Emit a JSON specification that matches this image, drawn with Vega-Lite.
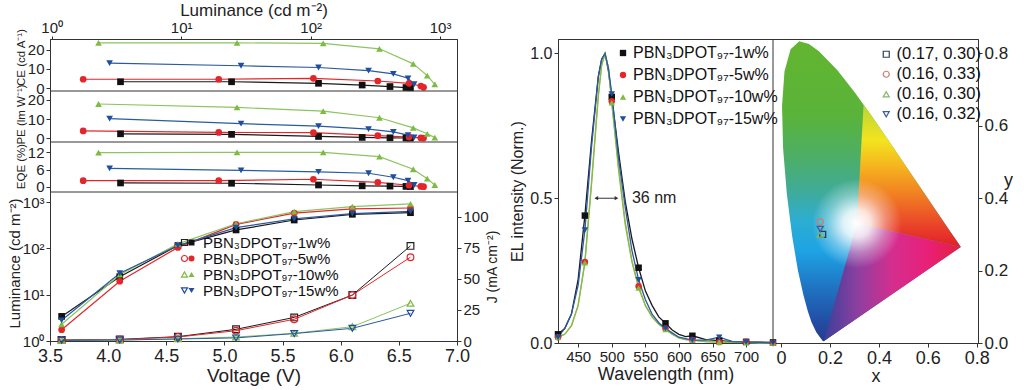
{
  "$schema": "https://vega.github.io/schema/vega-lite/v6.json",
  "background": "white",
  "padding": {"left": 6, "top": 0, "right": 0, "bottom": 0},
  "config": {
    "font": "Liberation Sans",
    "view": {"stroke": "#333333", "strokeWidth": 1},
    "axis": {"grid": false, "labelFlush": false, "labelOverlap": false, "labelFont": "Liberation Sans", "titleFont": "Liberation Sans", "labelColor": "#222222", "titleColor": "#222222", "titleFontWeight": "normal", "domainColor": "#333333", "tickColor": "#333333", "tickSize": 4, "labelPadding": 2, "labelFontSize": 15, "titleFontSize": 16},
    "legend": {"labelFont": "Liberation Sans", "labelColor": "#111111", "labelFontSize": 16, "padding": 0, "symbolStrokeWidth": 1}
  },
  "datasets": {
    "eff": [
      {"s": "1w%", "L": 3.4, "ce": 3.3, "pe": 2.3, "eqe": 1.3},
      {"s": "1w%", "L": 24.5, "ce": 3.3, "pe": 2.0, "eqe": 1.2},
      {"s": "1w%", "L": 115, "ce": 2.5, "pe": 0.9, "eqe": 0.6},
      {"s": "1w%", "L": 250, "ce": 1.6, "pe": 0.4, "eqe": 0.3},
      {"s": "1w%", "L": 410, "ce": 0.8, "pe": 0.2, "eqe": 0.2},
      {"s": "1w%", "L": 545, "ce": 0.3, "pe": 0.1, "eqe": 0.1},
      {"s": "1w%", "L": 590, "ce": 0.2, "pe": 0.05, "eqe": 0.05},
      {"s": "5w%", "L": 1.75, "ce": 4.6, "pe": 3.8, "eqe": 2.1},
      {"s": "5w%", "L": 19.5, "ce": 4.6, "pe": 3.0, "eqe": 2.1},
      {"s": "5w%", "L": 105, "ce": 5.1, "pe": 2.9, "eqe": 2.6},
      {"s": "5w%", "L": 330, "ce": 3.7, "pe": 1.3, "eqe": 1.5},
      {"s": "5w%", "L": 575, "ce": 2.5, "pe": 0.6, "eqe": 0.5},
      {"s": "5w%", "L": 710, "ce": 1.1, "pe": 0.15, "eqe": 0.1},
      {"s": "5w%", "L": 745, "ce": 0.4, "pe": 0.05, "eqe": 0.0},
      {"s": "10w%", "L": 2.3, "ce": 23.5, "pe": 17.9, "eqe": 11.9},
      {"s": "10w%", "L": 27, "ce": 23.5, "pe": 16.1, "eqe": 12.0},
      {"s": "10w%", "L": 125, "ce": 23.2, "pe": 14.2, "eqe": 12.0},
      {"s": "10w%", "L": 340, "ce": 20.4, "pe": 10.7, "eqe": 10.5},
      {"s": "10w%", "L": 620, "ce": 12.6, "pe": 5.4, "eqe": 6.1},
      {"s": "10w%", "L": 795, "ce": 6.5, "pe": 2.3, "eqe": 2.8},
      {"s": "10w%", "L": 910, "ce": 1.9, "pe": 0.3, "eqe": 0.6},
      {"s": "15w%", "L": 2.8, "ce": 13.0, "pe": 10.2, "eqe": 6.4},
      {"s": "15w%", "L": 29, "ce": 11.6, "pe": 7.6, "eqe": 5.7},
      {"s": "15w%", "L": 115, "ce": 10.7, "pe": 6.3, "eqe": 5.2},
      {"s": "15w%", "L": 280, "ce": 9.1, "pe": 4.7, "eqe": 4.7},
      {"s": "15w%", "L": 435, "ce": 7.4, "pe": 3.3, "eqe": 3.3},
      {"s": "15w%", "L": 565, "ce": 5.1, "pe": 1.6, "eqe": 2.1},
      {"s": "15w%", "L": 630, "ce": 2.0, "pe": 0.4, "eqe": 0.6}
    ],
    "lumv": [
      {"name": "PBN₃DPOT₉₇-1w%", "v": 3.6, "L": 3.4},
      {"name": "PBN₃DPOT₉₇-1w%", "v": 4.1, "L": 24.5},
      {"name": "PBN₃DPOT₉₇-1w%", "v": 4.6, "L": 115},
      {"name": "PBN₃DPOT₉₇-1w%", "v": 5.1, "L": 250},
      {"name": "PBN₃DPOT₉₇-1w%", "v": 5.6, "L": 410},
      {"name": "PBN₃DPOT₉₇-1w%", "v": 6.1, "L": 545},
      {"name": "PBN₃DPOT₉₇-1w%", "v": 6.6, "L": 590},
      {"name": "PBN₃DPOT₉₇-5w%", "v": 3.6, "L": 1.75},
      {"name": "PBN₃DPOT₉₇-5w%", "v": 4.1, "L": 19.5},
      {"name": "PBN₃DPOT₉₇-5w%", "v": 4.6, "L": 105},
      {"name": "PBN₃DPOT₉₇-5w%", "v": 5.1, "L": 330},
      {"name": "PBN₃DPOT₉₇-5w%", "v": 5.6, "L": 575},
      {"name": "PBN₃DPOT₉₇-5w%", "v": 6.1, "L": 710},
      {"name": "PBN₃DPOT₉₇-5w%", "v": 6.6, "L": 745},
      {"name": "PBN₃DPOT₉₇-10w%", "v": 3.6, "L": 2.3},
      {"name": "PBN₃DPOT₉₇-10w%", "v": 4.1, "L": 27},
      {"name": "PBN₃DPOT₉₇-10w%", "v": 4.6, "L": 125},
      {"name": "PBN₃DPOT₉₇-10w%", "v": 5.1, "L": 340},
      {"name": "PBN₃DPOT₉₇-10w%", "v": 5.6, "L": 620},
      {"name": "PBN₃DPOT₉₇-10w%", "v": 6.1, "L": 795},
      {"name": "PBN₃DPOT₉₇-10w%", "v": 6.6, "L": 910},
      {"name": "PBN₃DPOT₉₇-15w%", "v": 3.6, "L": 2.8},
      {"name": "PBN₃DPOT₉₇-15w%", "v": 4.1, "L": 29},
      {"name": "PBN₃DPOT₉₇-15w%", "v": 4.6, "L": 115},
      {"name": "PBN₃DPOT₉₇-15w%", "v": 5.1, "L": 280},
      {"name": "PBN₃DPOT₉₇-15w%", "v": 5.6, "L": 435},
      {"name": "PBN₃DPOT₉₇-15w%", "v": 6.1, "L": 565},
      {"name": "PBN₃DPOT₉₇-15w%", "v": 6.6, "L": 630}
    ],
    "jv": [
      {"series": "PBN₃DPOT₉₇-1w%", "v": 3.6, "J": 0.8},
      {"series": "PBN₃DPOT₉₇-1w%", "v": 4.1, "J": 1.3},
      {"series": "PBN₃DPOT₉₇-1w%", "v": 4.6, "J": 3.5},
      {"series": "PBN₃DPOT₉₇-1w%", "v": 5.1, "J": 9.4},
      {"series": "PBN₃DPOT₉₇-1w%", "v": 5.6, "J": 19},
      {"series": "PBN₃DPOT₉₇-1w%", "v": 6.1, "J": 37},
      {"series": "PBN₃DPOT₉₇-1w%", "v": 6.6, "J": 76.6},
      {"series": "PBN₃DPOT₉₇-5w%", "v": 3.6, "J": 0.7},
      {"series": "PBN₃DPOT₉₇-5w%", "v": 4.1, "J": 1.2},
      {"series": "PBN₃DPOT₉₇-5w%", "v": 4.6, "J": 3.2},
      {"series": "PBN₃DPOT₉₇-5w%", "v": 5.1, "J": 8.3},
      {"series": "PBN₃DPOT₉₇-5w%", "v": 5.6, "J": 17.5},
      {"series": "PBN₃DPOT₉₇-5w%", "v": 6.1, "J": 37},
      {"series": "PBN₃DPOT₉₇-5w%", "v": 6.6, "J": 67.5},
      {"series": "PBN₃DPOT₉₇-10w%", "v": 3.6, "J": 0.5},
      {"series": "PBN₃DPOT₉₇-10w%", "v": 4.1, "J": 0.8},
      {"series": "PBN₃DPOT₉₇-10w%", "v": 4.6, "J": 1.8},
      {"series": "PBN₃DPOT₉₇-10w%", "v": 5.1, "J": 3.2},
      {"series": "PBN₃DPOT₉₇-10w%", "v": 5.6, "J": 6.2},
      {"series": "PBN₃DPOT₉₇-10w%", "v": 6.1, "J": 11.5},
      {"series": "PBN₃DPOT₉₇-10w%", "v": 6.6, "J": 30.4},
      {"series": "PBN₃DPOT₉₇-15w%", "v": 3.6, "J": 0.5},
      {"series": "PBN₃DPOT₉₇-15w%", "v": 4.1, "J": 0.8},
      {"series": "PBN₃DPOT₉₇-15w%", "v": 4.6, "J": 1.6},
      {"series": "PBN₃DPOT₉₇-15w%", "v": 5.1, "J": 2.5},
      {"series": "PBN₃DPOT₉₇-15w%", "v": 5.6, "J": 6.0},
      {"series": "PBN₃DPOT₉₇-15w%", "v": 6.1, "J": 10.2},
      {"series": "PBN₃DPOT₉₇-15w%", "v": 6.6, "J": 22.3}
    ],
    "el": [
      {"s": "PBN₃DPOT₉₇-1w%", "wl": 420, "I": 0.03}, {"s": "PBN₃DPOT₉₇-1w%", "wl": 430, "I": 0.05}, {"s": "PBN₃DPOT₉₇-1w%", "wl": 440, "I": 0.10}, {"s": "PBN₃DPOT₉₇-1w%", "wl": 450, "I": 0.22}, {"s": "PBN₃DPOT₉₇-1w%", "wl": 460, "I": 0.44}, {"s": "PBN₃DPOT₉₇-1w%", "wl": 470, "I": 0.70}, {"s": "PBN₃DPOT₉₇-1w%", "wl": 480, "I": 0.92}, {"s": "PBN₃DPOT₉₇-1w%", "wl": 485, "I": 0.98}, {"s": "PBN₃DPOT₉₇-1w%", "wl": 490, "I": 1.0}, {"s": "PBN₃DPOT₉₇-1w%", "wl": 495, "I": 0.94}, {"s": "PBN₃DPOT₉₇-1w%", "wl": 500, "I": 0.85}, {"s": "PBN₃DPOT₉₇-1w%", "wl": 510, "I": 0.66}, {"s": "PBN₃DPOT₉₇-1w%", "wl": 520, "I": 0.49}, {"s": "PBN₃DPOT₉₇-1w%", "wl": 530, "I": 0.36}, {"s": "PBN₃DPOT₉₇-1w%", "wl": 540, "I": 0.26}, {"s": "PBN₃DPOT₉₇-1w%", "wl": 550, "I": 0.18}, {"s": "PBN₃DPOT₉₇-1w%", "wl": 560, "I": 0.13}, {"s": "PBN₃DPOT₉₇-1w%", "wl": 570, "I": 0.09}, {"s": "PBN₃DPOT₉₇-1w%", "wl": 580, "I": 0.068}, {"s": "PBN₃DPOT₉₇-1w%", "wl": 590, "I": 0.045}, {"s": "PBN₃DPOT₉₇-1w%", "wl": 600, "I": 0.03}, {"s": "PBN₃DPOT₉₇-1w%", "wl": 610, "I": 0.022}, {"s": "PBN₃DPOT₉₇-1w%", "wl": 620, "I": 0.025}, {"s": "PBN₃DPOT₉₇-1w%", "wl": 640, "I": 0.012}, {"s": "PBN₃DPOT₉₇-1w%", "wl": 660, "I": 0.008}, {"s": "PBN₃DPOT₉₇-1w%", "wl": 680, "I": 0.005}, {"s": "PBN₃DPOT₉₇-1w%", "wl": 700, "I": 0.004}, {"s": "PBN₃DPOT₉₇-1w%", "wl": 720, "I": 0.003}, {"s": "PBN₃DPOT₉₇-1w%", "wl": 740, "I": 0.002},
      {"s": "PBN₃DPOT₉₇-5w%", "wl": 420, "I": 0.02}, {"s": "PBN₃DPOT₉₇-5w%", "wl": 430, "I": 0.03}, {"s": "PBN₃DPOT₉₇-5w%", "wl": 440, "I": 0.06}, {"s": "PBN₃DPOT₉₇-5w%", "wl": 450, "I": 0.13}, {"s": "PBN₃DPOT₉₇-5w%", "wl": 460, "I": 0.28}, {"s": "PBN₃DPOT₉₇-5w%", "wl": 470, "I": 0.56}, {"s": "PBN₃DPOT₉₇-5w%", "wl": 480, "I": 0.86}, {"s": "PBN₃DPOT₉₇-5w%", "wl": 485, "I": 0.96}, {"s": "PBN₃DPOT₉₇-5w%", "wl": 490, "I": 1.0}, {"s": "PBN₃DPOT₉₇-5w%", "wl": 495, "I": 0.95}, {"s": "PBN₃DPOT₉₇-5w%", "wl": 500, "I": 0.835}, {"s": "PBN₃DPOT₉₇-5w%", "wl": 510, "I": 0.61}, {"s": "PBN₃DPOT₉₇-5w%", "wl": 520, "I": 0.42}, {"s": "PBN₃DPOT₉₇-5w%", "wl": 530, "I": 0.285}, {"s": "PBN₃DPOT₉₇-5w%", "wl": 540, "I": 0.196}, {"s": "PBN₃DPOT₉₇-5w%", "wl": 550, "I": 0.13}, {"s": "PBN₃DPOT₉₇-5w%", "wl": 560, "I": 0.09}, {"s": "PBN₃DPOT₉₇-5w%", "wl": 570, "I": 0.065}, {"s": "PBN₃DPOT₉₇-5w%", "wl": 580, "I": 0.05}, {"s": "PBN₃DPOT₉₇-5w%", "wl": 590, "I": 0.03}, {"s": "PBN₃DPOT₉₇-5w%", "wl": 600, "I": 0.018}, {"s": "PBN₃DPOT₉₇-5w%", "wl": 610, "I": 0.012}, {"s": "PBN₃DPOT₉₇-5w%", "wl": 620, "I": 0.01}, {"s": "PBN₃DPOT₉₇-5w%", "wl": 640, "I": 0.005}, {"s": "PBN₃DPOT₉₇-5w%", "wl": 660, "I": 0.003}, {"s": "PBN₃DPOT₉₇-5w%", "wl": 680, "I": 0.002}, {"s": "PBN₃DPOT₉₇-5w%", "wl": 700, "I": 0.004}, {"s": "PBN₃DPOT₉₇-5w%", "wl": 720, "I": 0.001}, {"s": "PBN₃DPOT₉₇-5w%", "wl": 740, "I": 0.0},
      {"s": "PBN₃DPOT₉₇-10w%", "wl": 420, "I": 0.02}, {"s": "PBN₃DPOT₉₇-10w%", "wl": 430, "I": 0.03}, {"s": "PBN₃DPOT₉₇-10w%", "wl": 440, "I": 0.06}, {"s": "PBN₃DPOT₉₇-10w%", "wl": 450, "I": 0.13}, {"s": "PBN₃DPOT₉₇-10w%", "wl": 460, "I": 0.277}, {"s": "PBN₃DPOT₉₇-10w%", "wl": 470, "I": 0.55}, {"s": "PBN₃DPOT₉₇-10w%", "wl": 480, "I": 0.85}, {"s": "PBN₃DPOT₉₇-10w%", "wl": 485, "I": 0.96}, {"s": "PBN₃DPOT₉₇-10w%", "wl": 490, "I": 1.0}, {"s": "PBN₃DPOT₉₇-10w%", "wl": 495, "I": 0.95}, {"s": "PBN₃DPOT₉₇-10w%", "wl": 500, "I": 0.83}, {"s": "PBN₃DPOT₉₇-10w%", "wl": 510, "I": 0.60}, {"s": "PBN₃DPOT₉₇-10w%", "wl": 520, "I": 0.41}, {"s": "PBN₃DPOT₉₇-10w%", "wl": 530, "I": 0.28}, {"s": "PBN₃DPOT₉₇-10w%", "wl": 540, "I": 0.19}, {"s": "PBN₃DPOT₉₇-10w%", "wl": 550, "I": 0.13}, {"s": "PBN₃DPOT₉₇-10w%", "wl": 560, "I": 0.09}, {"s": "PBN₃DPOT₉₇-10w%", "wl": 570, "I": 0.065}, {"s": "PBN₃DPOT₉₇-10w%", "wl": 580, "I": 0.047}, {"s": "PBN₃DPOT₉₇-10w%", "wl": 590, "I": 0.03}, {"s": "PBN₃DPOT₉₇-10w%", "wl": 600, "I": 0.018}, {"s": "PBN₃DPOT₉₇-10w%", "wl": 610, "I": 0.012}, {"s": "PBN₃DPOT₉₇-10w%", "wl": 620, "I": 0.01}, {"s": "PBN₃DPOT₉₇-10w%", "wl": 640, "I": 0.005}, {"s": "PBN₃DPOT₉₇-10w%", "wl": 660, "I": 0.003}, {"s": "PBN₃DPOT₉₇-10w%", "wl": 680, "I": 0.002}, {"s": "PBN₃DPOT₉₇-10w%", "wl": 700, "I": 0.001}, {"s": "PBN₃DPOT₉₇-10w%", "wl": 720, "I": 0.0}, {"s": "PBN₃DPOT₉₇-10w%", "wl": 740, "I": 0.0},
      {"s": "PBN₃DPOT₉₇-15w%", "wl": 420, "I": 0.02}, {"s": "PBN₃DPOT₉₇-15w%", "wl": 430, "I": 0.05}, {"s": "PBN₃DPOT₉₇-15w%", "wl": 440, "I": 0.10}, {"s": "PBN₃DPOT₉₇-15w%", "wl": 450, "I": 0.20}, {"s": "PBN₃DPOT₉₇-15w%", "wl": 460, "I": 0.39}, {"s": "PBN₃DPOT₉₇-15w%", "wl": 470, "I": 0.68}, {"s": "PBN₃DPOT₉₇-15w%", "wl": 480, "I": 0.92}, {"s": "PBN₃DPOT₉₇-15w%", "wl": 485, "I": 0.98}, {"s": "PBN₃DPOT₉₇-15w%", "wl": 490, "I": 1.0}, {"s": "PBN₃DPOT₉₇-15w%", "wl": 495, "I": 0.95}, {"s": "PBN₃DPOT₉₇-15w%", "wl": 500, "I": 0.86}, {"s": "PBN₃DPOT₉₇-15w%", "wl": 510, "I": 0.64}, {"s": "PBN₃DPOT₉₇-15w%", "wl": 520, "I": 0.47}, {"s": "PBN₃DPOT₉₇-15w%", "wl": 530, "I": 0.32}, {"s": "PBN₃DPOT₉₇-15w%", "wl": 540, "I": 0.218}, {"s": "PBN₃DPOT₉₇-15w%", "wl": 550, "I": 0.15}, {"s": "PBN₃DPOT₉₇-15w%", "wl": 560, "I": 0.10}, {"s": "PBN₃DPOT₉₇-15w%", "wl": 570, "I": 0.07}, {"s": "PBN₃DPOT₉₇-15w%", "wl": 580, "I": 0.05}, {"s": "PBN₃DPOT₉₇-15w%", "wl": 590, "I": 0.035}, {"s": "PBN₃DPOT₉₇-15w%", "wl": 600, "I": 0.02}, {"s": "PBN₃DPOT₉₇-15w%", "wl": 610, "I": 0.015}, {"s": "PBN₃DPOT₉₇-15w%", "wl": 620, "I": 0.01}, {"s": "PBN₃DPOT₉₇-15w%", "wl": 640, "I": 0.01}, {"s": "PBN₃DPOT₉₇-15w%", "wl": 660, "I": 0.02}, {"s": "PBN₃DPOT₉₇-15w%", "wl": 680, "I": 0.005}, {"s": "PBN₃DPOT₉₇-15w%", "wl": 700, "I": 0.003}, {"s": "PBN₃DPOT₉₇-15w%", "wl": 720, "I": 0.002}, {"s": "PBN₃DPOT₉₇-15w%", "wl": 740, "I": 0.0}
    ],
    "locus": [
      {"o": 1, "x": 0.1741, "y": 0.0050}, {"o": 2, "x": 0.1714, "y": 0.0051}, {"o": 3, "x": 0.1644, "y": 0.0109}, {"o": 4, "x": 0.1566, "y": 0.0177}, {"o": 5, "x": 0.1440, "y": 0.0297}, {"o": 6, "x": 0.1241, "y": 0.0578}, {"o": 7, "x": 0.1096, "y": 0.0868}, {"o": 8, "x": 0.0913, "y": 0.1327}, {"o": 9, "x": 0.0687, "y": 0.2007}, {"o": 10, "x": 0.0454, "y": 0.2950}, {"o": 11, "x": 0.0235, "y": 0.4127}, {"o": 12, "x": 0.0082, "y": 0.5384}, {"o": 13, "x": 0.0039, "y": 0.6548}, {"o": 14, "x": 0.0139, "y": 0.7502}, {"o": 15, "x": 0.0389, "y": 0.8120}, {"o": 16, "x": 0.0743, "y": 0.8338}, {"o": 17, "x": 0.1142, "y": 0.8262}, {"o": 18, "x": 0.1547, "y": 0.8059}, {"o": 19, "x": 0.2296, "y": 0.7543}, {"o": 20, "x": 0.3016, "y": 0.6923}, {"o": 21, "x": 0.3731, "y": 0.6245}, {"o": 22, "x": 0.4441, "y": 0.5547}, {"o": 23, "x": 0.5125, "y": 0.4866}, {"o": 24, "x": 0.5752, "y": 0.4242}, {"o": 25, "x": 0.6270, "y": 0.3725}, {"o": 26, "x": 0.6915, "y": 0.3083}, {"o": 27, "x": 0.7190, "y": 0.2809}, {"o": 28, "x": 0.7347, "y": 0.2653}, {"o": 29, "x": 0.1741, "y": 0.0050}
    ],
    "secR": [
      {"o": 1, "x": 0.31, "y": 0.33}, {"o": 2, "x": 0.3373, "y": 0.6589}, {"o": 3, "x": 0.3731, "y": 0.6245}, {"o": 4, "x": 0.4441, "y": 0.5547}, {"o": 5, "x": 0.5125, "y": 0.4866}, {"o": 6, "x": 0.5752, "y": 0.4242}, {"o": 7, "x": 0.6270, "y": 0.3725}, {"o": 8, "x": 0.6915, "y": 0.3083}, {"o": 9, "x": 0.7190, "y": 0.2809}, {"o": 10, "x": 0.7347, "y": 0.2653}, {"o": 11, "x": 0.31, "y": 0.33}
    ],
    "secB": [
      {"o": 1, "x": 0.31, "y": 0.33}, {"o": 2, "x": 0.7347, "y": 0.2653}, {"o": 3, "x": 0.1741, "y": 0.0050}, {"o": 4, "x": 0.31, "y": 0.33}
    ],
    "wp": [{"x": 0.31, "y": 0.33}],
    "cie": [
      {"lab": "(0.17, 0.30)", "x": 0.17, "y": 0.30},
      {"lab": "(0.16, 0.33)", "x": 0.16, "y": 0.335},
      {"lab": "(0.16, 0.30)", "x": 0.16, "y": 0.30},
      {"lab": "(0.16, 0.32)", "x": 0.16, "y": 0.315}
    ]
  },
  "hconcat": [
    {
      "width": 407,
      "height": 302,
      "layer": [
        {
          "data": {"name": "eff"},
          "encoding": {
            "x": {"field": "L", "type": "quantitative", "scale": {"type": "log", "domain": [0.97, 1350], "nice": false}, "axis": {"orient": "top", "values": [1, 10, 100, 1000], "labelExpr": "datum.value == 1 ? '10⁰' : datum.value == 10 ? '10¹' : datum.value == 100 ? '10²' : '10³'", "title": "Luminance (cd m⁻²)", "titleFontSize": 17, "titlePadding": 1, "labelPadding": 1, "tickSize": 3, "labelFontSize": 15}},
            "y": {"field": "ce", "type": "quantitative", "scale": {"domain": [-1.5, 25.5], "nice": false, "zero": false, "range": [52, 0]}, "axis": {"orient": "left", "values": [0, 10, 20], "title": "CE (cd A⁻¹)", "titleFontSize": 11.5, "titleX": -24, "titleY": 18}}
          },
          "layer": [
            {"mark": {"type": "line", "strokeWidth": 1.2}, "encoding": {"stroke": {"field": "s", "type": "nominal", "scale": {"domain": ["15w%", "10w%", "5w%", "1w%"], "range": ["#2a5aa0", "#8cc460", "#e3262b", "#1a1a1a"]}, "legend": null}}},
            {"mark": {"type": "point", "filled": true, "size": 45, "opacity": 1}, "encoding": {"color": {"field": "s", "type": "nominal", "scale": {"domain": ["1w%", "5w%", "10w%", "15w%"], "range": ["#111111", "#e3262b", "#7dbb42", "#1f4e9e"]}, "legend": null}, "shape": {"field": "s", "type": "nominal", "scale": {"domain": ["1w%", "5w%", "10w%", "15w%"], "range": ["square", "circle", "triangle-up", "triangle-down"]}, "legend": null}}}
          ]
        },
        {
          "data": {"name": "eff"},
          "encoding": {
            "x": {"field": "L", "type": "quantitative", "scale": {"type": "log", "domain": [0.97, 1350], "nice": false}, "axis": null},
            "y": {"field": "pe", "type": "quantitative", "scale": {"domain": [-2, 24.7], "nice": false, "zero": false, "range": [103, 52]}, "axis": {"orient": "left", "values": [0, 10, 20], "title": "PE (lm W⁻¹)", "titleFontSize": 11.5, "titleX": -24, "titleY": 75}}
          },
          "layer": [
            {"mark": {"type": "line", "strokeWidth": 1.2}, "encoding": {"stroke": {"field": "s", "type": "nominal", "scale": {"domain": ["15w%", "10w%", "5w%", "1w%"], "range": ["#2a5aa0", "#8cc460", "#e3262b", "#1a1a1a"]}, "legend": null}}},
            {"mark": {"type": "point", "filled": true, "size": 45, "opacity": 1}, "encoding": {"color": {"field": "s", "type": "nominal", "scale": {"domain": ["1w%", "5w%", "10w%", "15w%"], "range": ["#111111", "#e3262b", "#7dbb42", "#1f4e9e"]}, "legend": null}, "shape": {"field": "s", "type": "nominal", "scale": {"domain": ["1w%", "5w%", "10w%", "15w%"], "range": ["square", "circle", "triangle-up", "triangle-down"]}, "legend": null}}}
          ]
        },
        {
          "data": {"name": "eff"},
          "encoding": {
            "x": {"field": "L", "type": "quantitative", "scale": {"type": "log", "domain": [0.97, 1350], "nice": false}, "axis": null},
            "y": {"field": "eqe", "type": "quantitative", "scale": {"domain": [-1.85, 15.6], "nice": false, "zero": false, "range": [153, 103]}, "axis": {"orient": "left", "values": [0, 6, 12], "title": "EQE (%)", "titleFontSize": 11.5, "titleX": -24, "titleY": 127}}
          },
          "layer": [
            {"mark": {"type": "line", "strokeWidth": 1.2}, "encoding": {"stroke": {"field": "s", "type": "nominal", "scale": {"domain": ["15w%", "10w%", "5w%", "1w%"], "range": ["#2a5aa0", "#8cc460", "#e3262b", "#1a1a1a"]}, "legend": null}}},
            {"mark": {"type": "point", "filled": true, "size": 45, "opacity": 1}, "encoding": {"color": {"field": "s", "type": "nominal", "scale": {"domain": ["1w%", "5w%", "10w%", "15w%"], "range": ["#111111", "#e3262b", "#7dbb42", "#1f4e9e"]}, "legend": null}, "shape": {"field": "s", "type": "nominal", "scale": {"domain": ["1w%", "5w%", "10w%", "15w%"], "range": ["square", "circle", "triangle-up", "triangle-down"]}, "legend": null}}}
          ]
        },
        {
          "data": {"values": [{"edge": "a"}]},
          "mark": {"type": "rule", "color": "#333333", "strokeWidth": 1},
          "encoding": {"y": {"datum": 52, "type": "quantitative", "scale": {"domain": [0, 302], "range": [0, 302]}, "axis": null}}
        },
        {
          "data": {"values": [{"edge": "b"}]},
          "mark": {"type": "rule", "color": "#333333", "strokeWidth": 1},
          "encoding": {"y": {"datum": 103, "type": "quantitative", "scale": {"domain": [0, 302], "range": [0, 302]}, "axis": null}}
        },
        {
          "data": {"values": [{"edge": "c"}]},
          "mark": {"type": "rule", "color": "#333333", "strokeWidth": 1},
          "encoding": {"y": {"datum": 153, "type": "quantitative", "scale": {"domain": [0, 302], "range": [0, 302]}, "axis": null}}
        },
        {
          "data": {"name": "lumv"},
          "encoding": {
            "x": {"field": "v", "type": "quantitative", "scale": {"domain": [3.5, 7.0], "nice": false, "zero": false}, "axis": {"orient": "bottom", "values": [3.5, 4, 4.5, 5, 5.5, 6, 6.5, 7], "format": ".1f", "title": "Voltage (V)", "labelFontSize": 18, "titleFontSize": 19, "titlePadding": 1}},
            "y": {"field": "L", "type": "quantitative", "scale": {"type": "log", "domain": [1, 1650], "nice": false, "range": [302, 153]}, "axis": {"orient": "left", "values": [1, 10, 100, 1000], "labelExpr": "datum.value == 1 ? '10⁰' : datum.value == 10 ? '10¹' : datum.value == 100 ? '10²' : '10³'", "title": "Luminance (cd m⁻²)", "titleFontSize": 15, "titleX": -28, "titleY": 224}}
          },
          "layer": [
            {"mark": {"type": "line", "strokeWidth": 1.2}, "encoding": {"stroke": {"field": "name", "type": "nominal", "scale": {"domain": ["PBN₃DPOT₉₇-15w%", "PBN₃DPOT₉₇-10w%", "PBN₃DPOT₉₇-5w%", "PBN₃DPOT₉₇-1w%"], "range": ["#2a5aa0", "#8cc460", "#e3262b", "#1a1a1a"]}, "legend": null}}},
            {"mark": {"type": "point", "filled": true, "size": 45, "opacity": 1}, "encoding": {
              "color": {"field": "name", "type": "nominal", "scale": {"domain": ["PBN₃DPOT₉₇-1w%", "PBN₃DPOT₉₇-5w%", "PBN₃DPOT₉₇-10w%", "PBN₃DPOT₉₇-15w%"], "range": ["#111111", "#e3262b", "#7dbb42", "#1f4e9e"]}, "legend": {"orient": "none", "legendX": 134, "legendY": 196, "title": null, "labelFontSize": 15, "rowPadding": 0, "symbolSize": 36, "labelOffset": 4}},
              "shape": {"field": "name", "type": "nominal", "scale": {"domain": ["PBN₃DPOT₉₇-1w%", "PBN₃DPOT₉₇-5w%", "PBN₃DPOT₉₇-10w%", "PBN₃DPOT₉₇-15w%"], "range": ["square", "circle", "triangle-up", "triangle-down"]}, "legend": {"orient": "none", "legendX": 134, "legendY": 196, "title": null, "labelFontSize": 15, "rowPadding": 0, "symbolSize": 36, "labelOffset": 4}}
            }}
          ]
        },
        {
          "data": {"name": "jv"},
          "encoding": {
            "x": {"field": "v", "type": "quantitative", "scale": {"domain": [3.5, 7.0], "nice": false, "zero": false}, "axis": null},
            "y": {"field": "J", "type": "quantitative", "scale": {"domain": [0, 120], "nice": false, "range": [302, 153]}, "axis": {"orient": "right", "values": [0, 25, 50, 75, 100], "title": "J (mA cm⁻²)", "titleAngle": 270, "titleFontSize": 14, "titleX": 42, "labelFontSize": 15}}
          },
          "layer": [
            {"mark": {"type": "line", "strokeWidth": 1}, "encoding": {"stroke": {"field": "series", "type": "nominal", "scale": {"domain": ["PBN₃DPOT₉₇-15w%", "PBN₃DPOT₉₇-10w%", "PBN₃DPOT₉₇-5w%", "PBN₃DPOT₉₇-1w%"], "range": ["#2a5aa0", "#8cc460", "#e3262b", "#1a1a1a"]}, "legend": null}}},
            {"mark": {"type": "point", "filled": false, "size": 45, "opacity": 1, "strokeWidth": 1.2}, "encoding": {
              "color": {"field": "series", "type": "nominal", "scale": {"domain": ["PBN₃DPOT₉₇-1w%", "PBN₃DPOT₉₇-5w%", "PBN₃DPOT₉₇-10w%", "PBN₃DPOT₉₇-15w%"], "range": ["#222222", "#e3262b", "#7dbb42", "#1f4e9e"]}, "legend": {"orient": "none", "legendX": 127, "legendY": 196, "title": null, "labelExpr": "' '", "labelFontSize": 15, "rowPadding": 0, "symbolSize": 36, "symbolStrokeWidth": 1.2}},
              "shape": {"field": "series", "type": "nominal", "scale": {"domain": ["PBN₃DPOT₉₇-1w%", "PBN₃DPOT₉₇-5w%", "PBN₃DPOT₉₇-10w%", "PBN₃DPOT₉₇-15w%"], "range": ["square", "circle", "triangle-up", "triangle-down"]}, "legend": {"orient": "none", "legendX": 127, "legendY": 196, "title": null, "labelExpr": "' '", "labelFontSize": 15, "rowPadding": 0, "symbolSize": 36, "symbolStrokeWidth": 1.2}}
            }}
          ]
        }
      ],
      "resolve": {"scale": {"x": "independent", "y": "independent", "color": "independent", "shape": "independent", "stroke": "independent"}, "axis": {"x": "independent", "y": "independent"}, "legend": {"color": "independent", "shape": "independent"}}
    },
    {
      "width": 420,
      "height": 304,
      "layer": [
        {
          "layer": [
            {"data": {"name": "el"}, "mark": {"type": "line", "strokeWidth": 1.3}, "encoding": {
              "x": {"field": "wl", "type": "quantitative", "scale": {"domain": [420, 740], "nice": false, "zero": false, "range": [0, 215]}, "axis": {"orient": "bottom", "values": [450, 500, 550, 600, 650, 700], "title": "Wavelength (nm)", "labelFontSize": 15, "titleFontSize": 18, "titlePadding": 1}},
              "y": {"field": "I", "type": "quantitative", "scale": {"domain": [0, 1.05], "nice": false}, "axis": {"orient": "left", "values": [0, 0.5, 1], "format": ".1f", "title": "EL intensity (Norm.)", "labelFontSize": 16, "titleFontSize": 16}},
              "stroke": {"field": "s", "type": "nominal", "scale": {"domain": ["PBN₃DPOT₉₇-15w%", "PBN₃DPOT₉₇-10w%", "PBN₃DPOT₉₇-5w%", "PBN₃DPOT₉₇-1w%"], "range": ["#2a5aa8", "#7cbf4a", "#e0a050", "#1a1a1a"]}, "legend": null}}},
            {"data": {"name": "el"}, "transform": [{"filter": {"field": "wl", "oneOf": [420, 460, 500, 540, 580, 620, 660, 700, 740]}}], "mark": {"type": "point", "filled": true, "size": 42, "opacity": 1}, "encoding": {
              "x": {"field": "wl", "type": "quantitative"},
              "y": {"field": "I", "type": "quantitative"},
              "color": {"field": "s", "type": "nominal", "scale": {"domain": ["PBN₃DPOT₉₇-1w%", "PBN₃DPOT₉₇-5w%", "PBN₃DPOT₉₇-10w%", "PBN₃DPOT₉₇-15w%"], "range": ["#111111", "#e3262b", "#7dbb42", "#1f4e9e"]}, "legend": {"orient": "none", "legendX": 57, "legendY": 6, "title": null, "labelFontSize": 16, "rowPadding": 6, "symbolSize": 40, "labelOffset": 2}},
              "shape": {"field": "s", "type": "nominal", "scale": {"domain": ["PBN₃DPOT₉₇-1w%", "PBN₃DPOT₉₇-5w%", "PBN₃DPOT₉₇-10w%", "PBN₃DPOT₉₇-15w%"], "range": ["square", "circle", "triangle-up", "triangle-down"]}, "legend": {"orient": "none", "legendX": 57, "legendY": 6, "title": null, "labelFontSize": 16, "rowPadding": 6, "symbolSize": 40, "labelOffset": 2}}
            }},
            {"data": {"values": [{"label": "arrow"}]}, "mark": {"type": "rule", "color": "#333333", "strokeWidth": 1}, "encoding": {"x": {"datum": 476, "type": "quantitative"}, "x2": {"datum": 508}, "y": {"datum": 0.5, "type": "quantitative"}}},
            {"data": {"values": [{"label": "left head"}]}, "mark": {"type": "point", "shape": "triangle-left", "filled": true, "size": 18, "color": "#333333", "opacity": 1}, "encoding": {"x": {"datum": 477, "type": "quantitative"}, "y": {"datum": 0.5, "type": "quantitative"}}},
            {"data": {"values": [{"label": "right head"}]}, "mark": {"type": "point", "shape": "triangle-right", "filled": true, "size": 18, "color": "#333333", "opacity": 1}, "encoding": {"x": {"datum": 507, "type": "quantitative"}, "y": {"datum": 0.5, "type": "quantitative"}}},
            {"data": {"values": [{"label": "36 nm"}]}, "mark": {"type": "text", "align": "left", "baseline": "middle", "fontSize": 16, "color": "#222222", "font": "Liberation Sans"}, "encoding": {"x": {"datum": 530, "type": "quantitative"}, "y": {"datum": 0.5, "type": "quantitative"}, "text": {"field": "label"}}},
            {"data": {"values": [{"label": "edge"}]}, "mark": {"type": "rule", "color": "#333333", "strokeWidth": 1}, "encoding": {"x": {"datum": 740, "type": "quantitative"}}}
          ]
        },
        {
          "encoding": {
            "x": {"field": "x", "type": "quantitative", "scale": {"domain": [-0.033, 0.805], "nice": false, "zero": false, "range": [215, 420]}, "axis": {"orient": "bottom", "values": [0, 0.2, 0.4, 0.6, 0.8], "labelExpr": "datum.value == 0 ? '0' : format(datum.value, '.1f')", "title": "x", "labelFontSize": 18, "titleFontSize": 18, "titlePadding": 0}},
            "y": {"field": "y", "type": "quantitative", "scale": {"domain": [0, 0.84], "nice": false, "zero": false}, "axis": {"orient": "right", "values": [0, 0.2, 0.4, 0.6, 0.8], "format": ".1f", "title": "y", "titleAngle": 0, "titleX": 30, "titleY": 150, "labelFontSize": 17, "titleFontSize": 18}}
          },
          "layer": [
            {"data": {"name": "locus"}, "mark": {"type": "line", "strokeWidth": 0, "fill": {"gradient": "linear", "x1": 0, "y1": 0, "x2": 0, "y2": 1, "stops": [{"offset": 0, "color": "#62b52f"}, {"offset": 0.25, "color": "#5ab33a"}, {"offset": 0.4, "color": "#4cae6c"}, {"offset": 0.5, "color": "#40ab98"}, {"offset": 0.6, "color": "#2cadd2"}, {"offset": 0.7, "color": "#1ea3e4"}, {"offset": 0.82, "color": "#1f74c2"}, {"offset": 0.93, "color": "#224fa6"}, {"offset": 1, "color": "#263c8c"}]}}, "encoding": {"order": {"field": "o", "type": "quantitative"}}},
            {"data": {"name": "secR"}, "mark": {"type": "line", "strokeWidth": 0, "fill": {"gradient": "linear", "x1": 0, "y1": 0, "x2": 0, "y2": 1, "stops": [{"offset": 0, "color": "#b9d536"}, {"offset": 0.25, "color": "#f2e41e"}, {"offset": 0.45, "color": "#f5b01f"}, {"offset": 0.65, "color": "#f07a22"}, {"offset": 0.85, "color": "#e9432a"}, {"offset": 1, "color": "#e31e27"}]}}, "encoding": {"order": {"field": "o", "type": "quantitative"}}},
            {"data": {"name": "secB"}, "mark": {"type": "line", "strokeWidth": 0, "fill": {"gradient": "linear", "x1": 0, "y1": 0, "x2": 1, "y2": 0, "stops": [{"offset": 0, "color": "#3b3f9a"}, {"offset": 0.25, "color": "#8e3fa0"}, {"offset": 0.5, "color": "#d42e8e"}, {"offset": 0.75, "color": "#e8207a"}, {"offset": 1, "color": "#e61f3c"}]}}, "encoding": {"order": {"field": "o", "type": "quantitative"}}},
            {"data": {"name": "wp"}, "mark": {"type": "point", "filled": true, "size": 8000, "strokeWidth": 0, "opacity": 1, "fill": {"gradient": "radial", "x1": 0.5, "y1": 0.5, "r1": 0, "x2": 0.5, "y2": 0.5, "r2": 0.5, "stops": [{"offset": 0, "color": "#ffffff"}, {"offset": 0.3, "color": "rgba(255,255,255,0.85)"}, {"offset": 0.65, "color": "rgba(255,255,255,0.35)"}, {"offset": 1, "color": "rgba(255,255,255,0)"}]}}},
            {"data": {"name": "cie"}, "mark": {"type": "point", "filled": false, "size": 36, "opacity": 1, "strokeWidth": 1.3}, "encoding": {
              "color": {"field": "lab", "type": "nominal", "scale": {"domain": ["(0.17, 0.30)", "(0.16, 0.33)", "(0.16, 0.30)", "(0.16, 0.32)"], "range": ["#2d4050", "#c9806f", "#86b86a", "#3a5f9a"]}, "legend": {"orient": "none", "legendX": 320, "legendY": 7, "title": null, "labelFontSize": 16.5, "rowPadding": 3, "symbolSize": 36, "labelOffset": 2, "symbolStrokeWidth": 1.2}},
              "shape": {"field": "lab", "type": "nominal", "scale": {"domain": ["(0.17, 0.30)", "(0.16, 0.33)", "(0.16, 0.30)", "(0.16, 0.32)"], "range": ["square", "circle", "triangle-up", "triangle-down"]}, "legend": {"orient": "none", "legendX": 320, "legendY": 7, "title": null, "labelFontSize": 16.5, "rowPadding": 3, "symbolSize": 36, "labelOffset": 2, "symbolStrokeWidth": 1.2}}
            }}
          ]
        }
      ],
      "resolve": {"scale": {"x": "independent", "y": "independent", "color": "independent", "shape": "independent", "stroke": "independent"}, "axis": {"x": "independent", "y": "independent"}, "legend": {"color": "independent", "shape": "independent"}}
    }
  ],
  "spacing": 101,
  "bounds": "flush",
  "resolve": {"scale": {"color": "independent", "shape": "independent", "stroke": "independent"}, "legend": {"color": "independent", "shape": "independent"}}
}
